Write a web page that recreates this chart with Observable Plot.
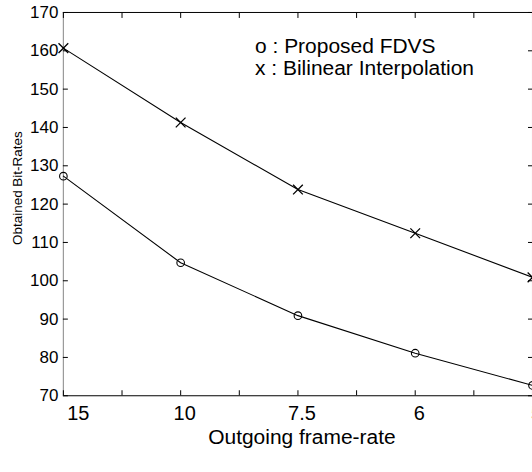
<!DOCTYPE html>
<html><head><meta charset="utf-8">
<script src="https://cdn.jsdelivr.net/npm/d3@7"></script>
<script src="https://cdn.jsdelivr.net/npm/@observablehq/plot@0.6"></script>
<style>
html,body{margin:0;padding:0;background:#fff;overflow:hidden;}
</style></head><body><div id="chart"></div>
<script>
const frameRates = ["15", "10", "7.5", "6", "5"];
const fdvs = [127.3, 104.7, 90.9, 81.1, 72.7];
const bilinear = [160.7, 141.3, 123.8, 112.4, 100.9];
const yTicks = [70, 80, 90, 100, 110, 120, 130, 140, 150, 160, 170];
const legendLines = ["o : Proposed FDVS", "x : Bilinear Interpolation"];
const xTitle = "Outgoing frame-rate";
const yTitle = "Obtained Bit-Rates";

const n = frameRates.length;
const minorTicks = d3.range(0, n - 0.99, 0.5);
const font = "'Liberation Sans', Arial, Helvetica, sans-serif";
const blank = () => "";

const chart = Plot.plot({
  width: 533, height: 472,
  marginLeft: 63, marginRight: 0, marginTop: 12, marginBottom: 76,
  style: {fontFamily: font, background: "#fff", color: "#000", overflow: "visible"},
  x: {type: "linear", domain: [0, n - 1]},
  y: {domain: [70, 170]},
  marks: [
    // frame
    Plot.ruleY([70, 170], {stroke: "#000", strokeWidth: 1}),
    Plot.ruleX([0], {stroke: "#999", strokeWidth: 1.2}),
    Plot.ruleX([n - 1], {stroke: "#000", strokeWidth: 1}),
    // inward ticks on all four sides
    Plot.axisX(minorTicks, {anchor: "bottom", tickSize: -5, tickFormat: blank, label: null}),
    Plot.axisX(minorTicks, {anchor: "top", tickSize: -5, tickFormat: blank, label: null}),
    Plot.axisY(yTicks, {anchor: "left", tickSize: -5, tickFormat: blank, label: null}),
    Plot.axisY(yTicks, {anchor: "right", tickSize: -5, tickFormat: blank, label: null}),
    // tick labels
    Plot.axisY(yTicks, {anchor: "left", tickSize: 0, tickPadding: 5, fontSize: 17, label: null}),
    Plot.axisX([0], {anchor: "bottom", tickSize: 0, tickPadding: 10, fontSize: 20, dx: 15, tickFormat: i => frameRates[i], label: null}),
    Plot.axisX(d3.range(1, n), {anchor: "bottom", tickSize: 0, tickPadding: 10, fontSize: 20, dx: 4, tickFormat: i => frameRates[i], label: null}),
    // series
    Plot.lineY(fdvs, {stroke: "#000", strokeWidth: 1.1}),
    Plot.dot(fdvs, {x: (d, i) => i, y: d => d, symbol: "circle", r: 3.8, stroke: "#000", strokeWidth: 1.1, fill: "none"}),
    Plot.lineY(bilinear, {stroke: "#000", strokeWidth: 1.1}),
    Plot.dot(bilinear, {x: (d, i) => i, y: d => d, symbol: "times", r: 4.5, stroke: "#000", strokeWidth: 1.3}),
    // legend text
    Plot.text([legendLines.join("\n")], {frameAnchor: "top-left", textAnchor: "start", lineAnchor: "top", lineHeight: 1.05, fontSize: 21, dx: 192, dy: 25, fill: "#000"}),
    // axis titles
    Plot.text([xTitle], {frameAnchor: "bottom", textAnchor: "middle", lineAnchor: "bottom", dx: 4, dy: 48, fontSize: 21, fill: "#000"}),
    Plot.text([yTitle], {frameAnchor: "left", textAnchor: "middle", lineAnchor: "middle", rotate: -90, dx: -45.5, dy: -16, fontSize: 13.5, fill: "#000"})
  ]
});
document.getElementById("chart").appendChild(chart);
</script>
</body></html>
